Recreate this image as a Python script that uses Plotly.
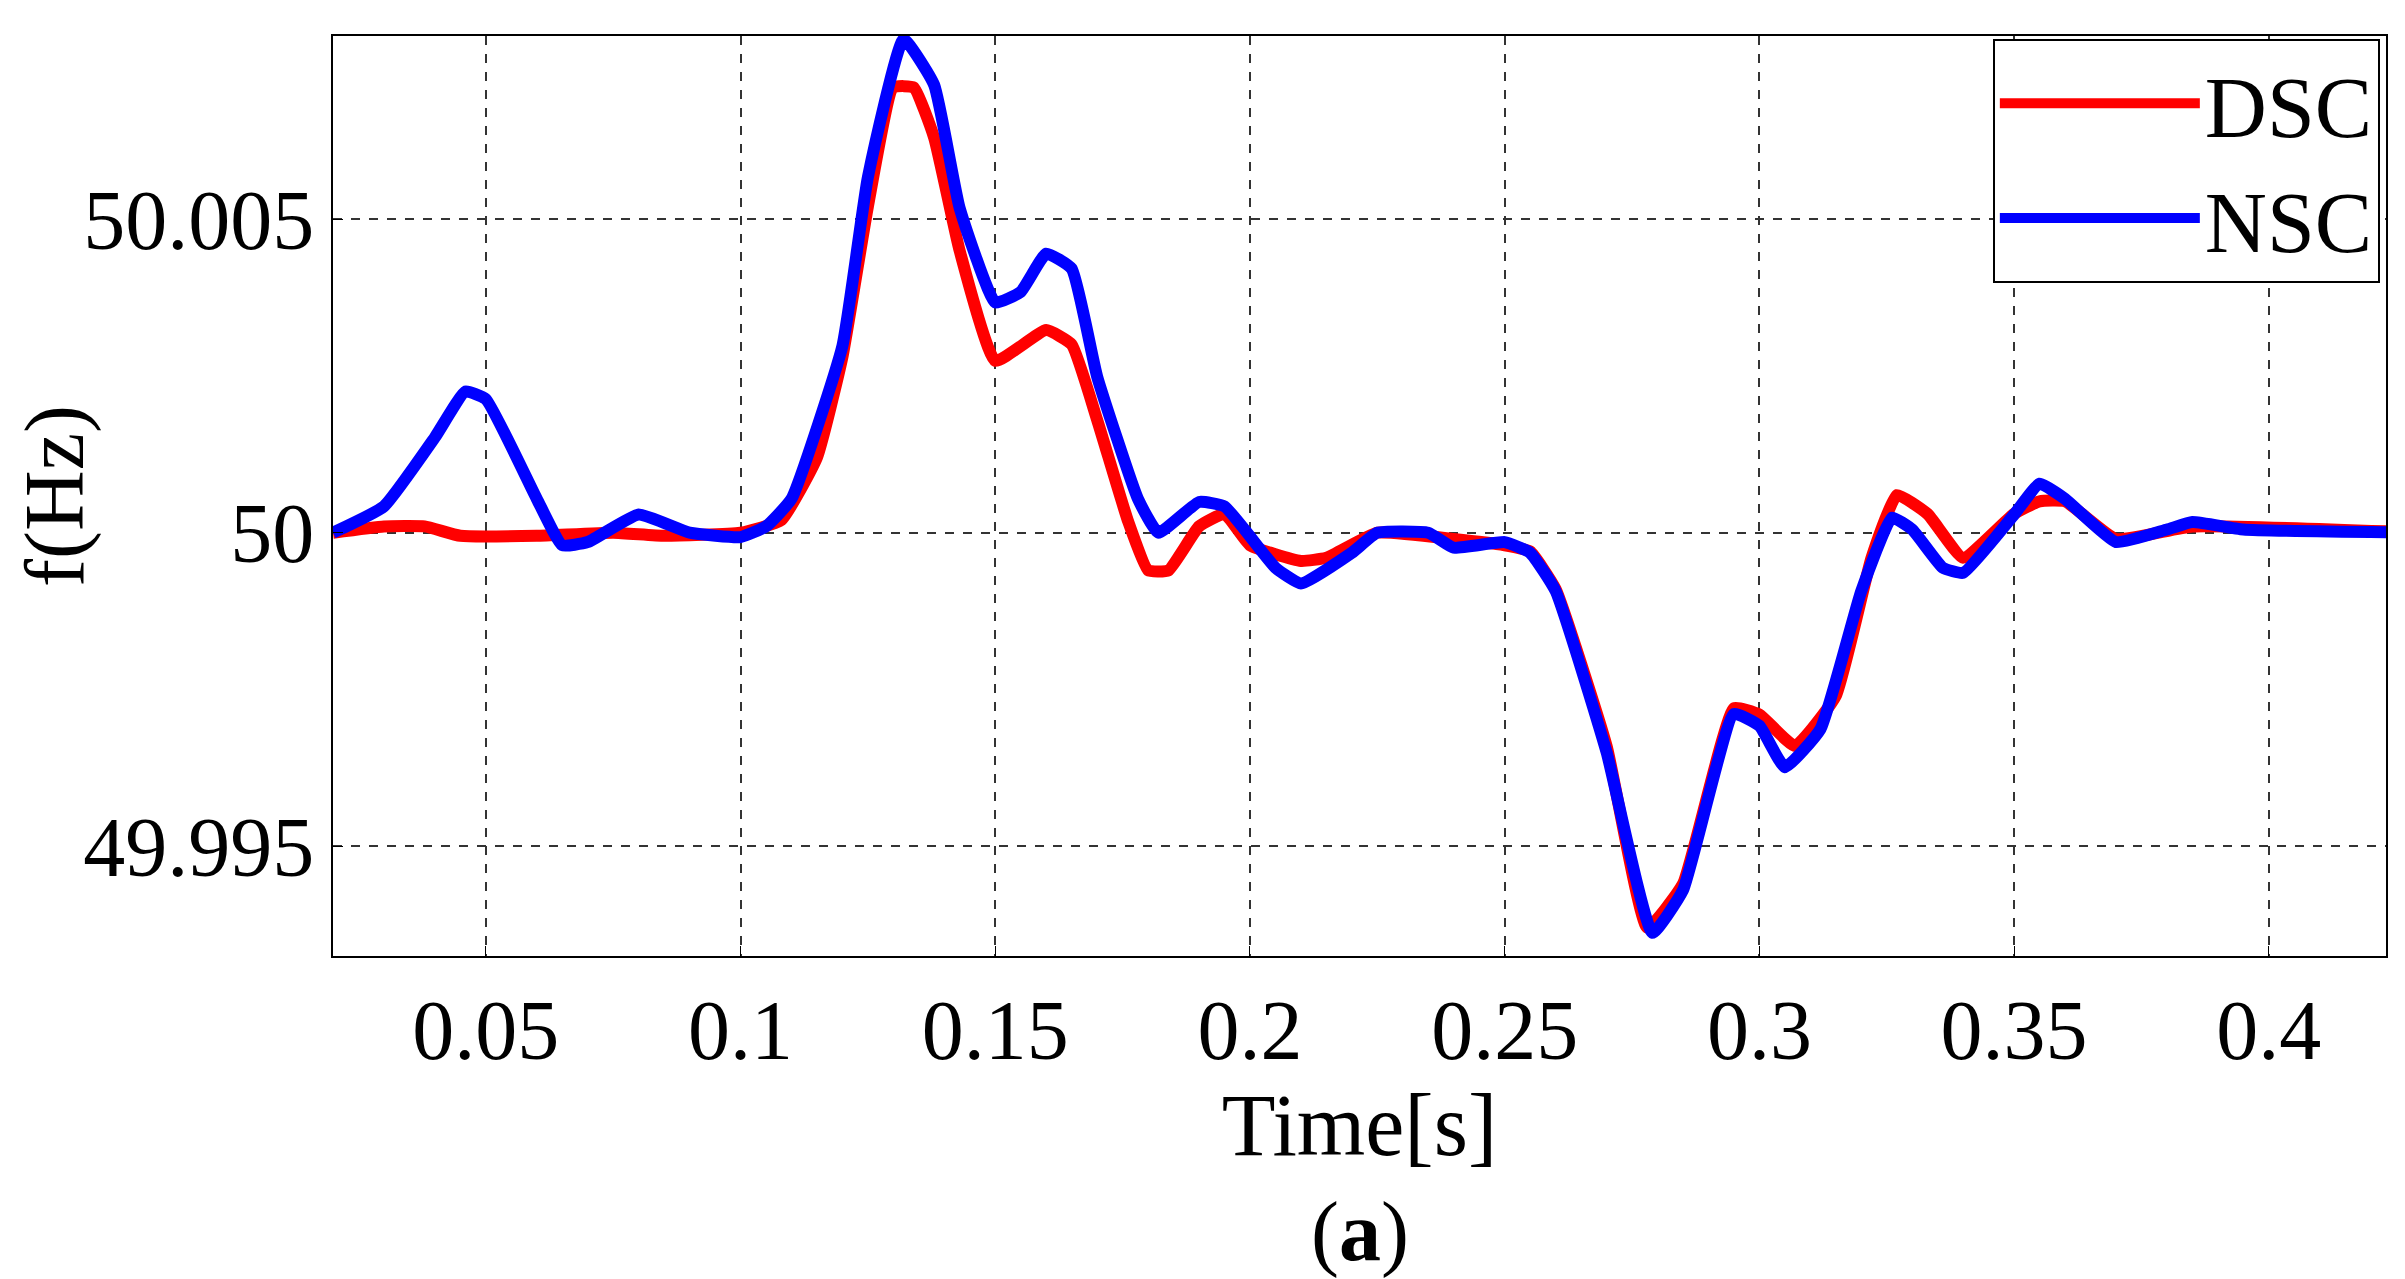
import plotly.graph_objects as go

t_nsc = [0.02,0.03,0.04,0.046,0.05,0.06,0.065,0.07,0.08,0.09,0.1,0.105,0.11,0.12,0.125,0.132,0.138,0.143,0.15,0.155,0.16,0.165,0.17,0.178,0.182,0.19,0.195,0.205,0.21,0.22,0.225,0.235,0.24,0.25,0.255,0.26,0.27,0.279,0.285,0.295,0.3,0.305,0.312,0.32,0.326,0.33,0.336,0.34,0.35,0.355,0.36,0.37,0.38,0.385,0.395,0.43]
d_nsc = [0,0.00042,0.00152,0.00225,0.00213,0.00054,-0.0002,-0.00015,0.00029,0,-0.00007,0.0001,0.00054,0.00298,0.00567,0.00787,0.00714,0.00518,0.00367,0.00384,0.00445,0.00421,0.00249,0.00054,0,0.00049,0.00042,-0.00056,-0.00081,-0.00032,0,0,-0.00024,-0.00015,-0.00032,-0.00093,-0.0035,-0.00638,-0.0057,-0.00289,-0.00308,-0.00374,-0.00313,-0.00093,0.00024,0.00005,-0.00056,-0.00064,0.00029,0.00078,0.00054,-0.00015,0.00005,0.00017,0.00005,0]
t_dsc = [0.02,0.03,0.038,0.045,0.06,0.075,0.085,0.1,0.108,0.115,0.12,0.125,0.13,0.134,0.138,0.143,0.15,0.16,0.165,0.17,0.176,0.18,0.184,0.19,0.195,0.2,0.21,0.215,0.225,0.24,0.25,0.255,0.26,0.27,0.278,0.285,0.295,0.3,0.307,0.315,0.322,0.327,0.333,0.34,0.35,0.355,0.36,0.37,0.385,0.43]
d_dsc = [0,0.0001,0.0001,-0.00005,-0.00005,0,-0.00005,0,0.0002,0.0012,0.0028,0.0052,0.0071,0.0071,0.0063,0.0045,0.00274,0.00323,0.003,0.0018,0.0002,-0.0006,-0.0006,0.0001,0.0003,-0.0002,-0.00045,-0.0004,0,-0.0001,-0.0002,-0.0003,-0.0009,-0.0034,-0.0063,-0.0056,-0.0028,-0.0029,-0.0034,-0.0026,-0.0004,0.0006,0.0003,-0.0004,0.0003,0.0005,0.0005,-0.0001,0.0001,0]
x_ticks = [0.05,0.1,0.15,0.2,0.25,0.3,0.35,0.4]
x_labels = ["0.05","0.1","0.15","0.2","0.25","0.3","0.35","0.4"]
y_ticks = [49.995,50,50.005]
y_labels = ["49.995","50","50.005"]

font = "Liberation Serif"
fig = go.Figure()
fig.add_trace(go.Scatter(x=t_dsc, y=[50+v for v in d_dsc], mode="lines", name="DSC",
                         line=dict(color="#ff0000", width=12, shape="spline", smoothing=0.4)))
fig.add_trace(go.Scatter(x=t_nsc, y=[50+v for v in d_nsc], mode="lines", name="NSC",
                         line=dict(color="#0000ff", width=12, shape="spline", smoothing=0.4)))
ax = dict(showline=True, linecolor="black", linewidth=2, mirror=True, ticks="inside", ticklen=10,
          tickcolor="black", showgrid=True, gridcolor="#333", griddash="dash", gridwidth=1.5,
          zeroline=False, tickfont=dict(family=font, size=84, color="black"))
fig.update_xaxes(range=[0.02,0.423], tickvals=x_ticks, ticktext=x_labels,
                 title=dict(text="Time[s]", font=dict(family=font, size=88, color="black"), standoff=2), **ax)
fig.update_yaxes(range=[49.99325,50.00792], tickvals=y_ticks, ticktext=y_labels,
                 title=dict(text="f(Hz)", font=dict(family=font, size=84, color="black"), standoff=4), **ax)
fig.add_annotation(text="(<b>a</b>)", xref="paper", yref="paper", x=0.5, y=-0.3, yanchor="middle",
                   showarrow=False, font=dict(family=font, size=84, color="black"))
fig.update_layout(width=2405, height=1279, paper_bgcolor="white", plot_bgcolor="white",
                  margin=dict(l=279, r=27, t=28, b=331),
                  legend=dict(x=0.997, y=0.997, xanchor="right", yanchor="top", bordercolor="black",
                              borderwidth=2, bgcolor="white", font=dict(family=font, size=86, color="black"),
                              itemwidth=200))
fig.write_html("out.html")
